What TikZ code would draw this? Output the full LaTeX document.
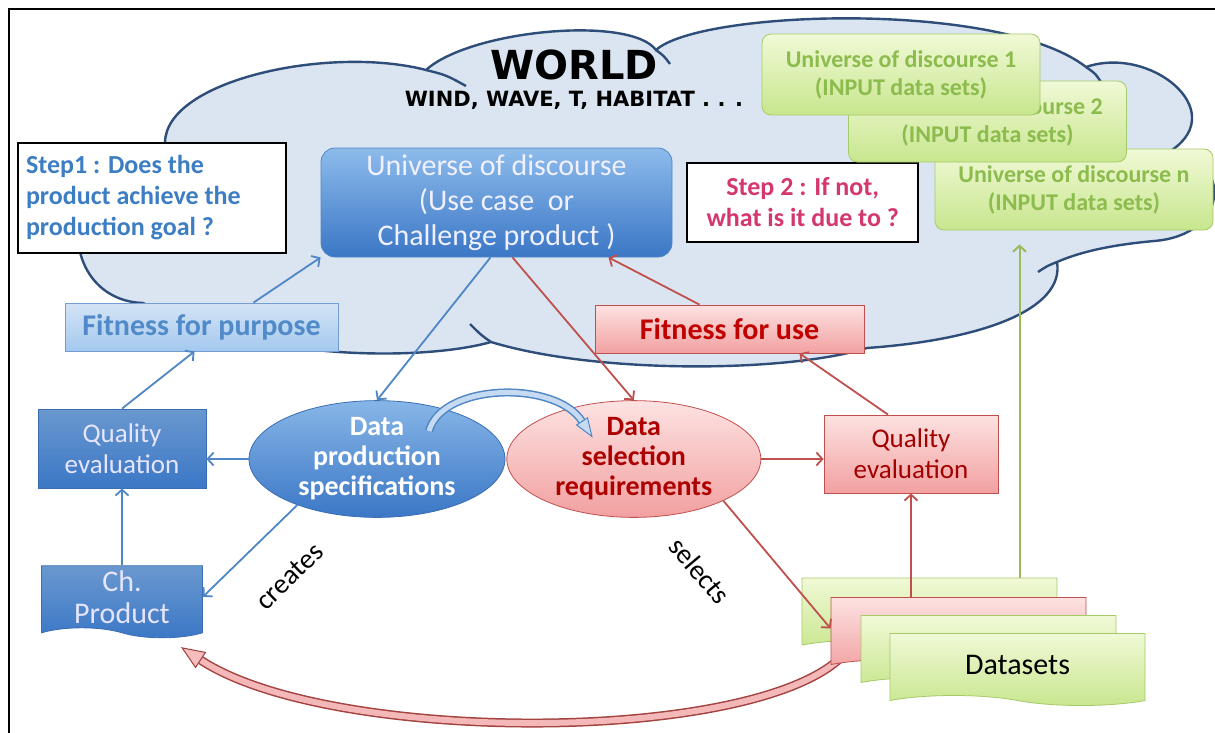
\documentclass[tikz,border=0pt]{standalone}
\usepackage{fontspec}
\setmainfont{Carlito}
\newfontfamily\worldfont{DejaVu Sans}
\usetikzlibrary{shapes.geometric, shapes.symbols, arrows.meta, positioning, backgrounds}

\definecolor{cloudfill}{HTML}{DBE5F1}
\definecolor{cloudedge}{HTML}{2E4D78}
\definecolor{bluedark}{HTML}{3A6EB2}
\definecolor{bluemid}{HTML}{4F86C6}
\definecolor{bluetop}{HTML}{8DBBEB}
\definecolor{bluebot}{HTML}{3B77C6}
\definecolor{bluetext}{HTML}{3C7DC3}
\definecolor{bluelight}{HTML}{C6DBF2}
\definecolor{redline}{HTML}{C0504D}
\definecolor{redtext}{HTML}{C00000}
\definecolor{pinktop}{HTML}{FDE2E2}
\definecolor{pinkbot}{HTML}{F2A0A0}
\definecolor{magtext}{HTML}{D4376F}
\definecolor{greenline}{HTML}{9BBB59}
\definecolor{greentop}{HTML}{F0F9D6}
\definecolor{greenbot}{HTML}{C8E68E}
\definecolor{greenedge}{HTML}{A5CA68}
\definecolor{greentext}{HTML}{8CBB4E}

\begin{document}
\begin{tikzpicture}[
    x=1pt, y=-1pt,
    worldcloud/.style={draw=cloudedge, line width=2.4pt, fill=cloudfill},
    curl/.style={draw=cloudedge, line width=2.4pt},
    mainbox/.style={rectangle, rounded corners=14pt, draw=bluemid, line width=0.8pt, top color=bluetop, bottom color=bluebot, text=white!94!blue, font=\fontsize{30}{35}\selectfont, align=center, minimum width=351pt, minimum height=109pt},
    stepbox/.style={rectangle, draw=black, line width=1.6pt, fill=white, font=\bfseries\fontsize{26}{31}\selectfont},
    unibox/.style={rectangle, rounded corners=9pt, draw=greenedge, line width=0.8pt, top color=greentop, bottom color=greenbot, text=greentext, font=\bfseries\fontsize{24}{28}\selectfont, align=center, minimum width=278pt, minimum height=81pt},
    fitblue/.style={rectangle, draw=bluemid!80, line width=0.8pt, top color=bluelight!75!white, bottom color=bluetop!80, text=bluetext!90, font=\bfseries\fontsize{30}{32}\selectfont, minimum width=273pt, minimum height=48pt},
    fitred/.style={rectangle, draw=redline, line width=0.8pt, top color=pinktop, bottom color=pinkbot, text=redtext, font=\bfseries\fontsize{30}{32}\selectfont, minimum width=269pt, minimum height=48pt},
    evalblue/.style={rectangle, draw=bluedark, line width=0.8pt, top color=bluemid!85!white, bottom color=bluebot, text=white!90!blue, font=\fontsize{27}{31}\selectfont, align=center, minimum width=168pt, minimum height=79pt},
    evalred/.style={rectangle, draw=redline, line width=0.8pt, top color=pinktop, bottom color=pinkbot, text=redtext!85!black, font=\fontsize{27}{31}\selectfont, align=center, minimum width=174pt, minimum height=78pt},
    specblue/.style={ellipse, draw=bluedark, line width=0.8pt, top color=bluetop!90!bluemid, bottom color=bluebot, text=white, font=\bfseries\fontsize{28}{30}\selectfont, align=center, minimum width=256pt, minimum height=112pt, inner sep=0pt},
    specred/.style={ellipse, draw=redline, line width=0.8pt, top color=pinktop, bottom color=pinkbot, text=redtext!90!black, font=\bfseries\fontsize{28}{30}\selectfont, align=center, minimum width=254pt, minimum height=109pt, inner sep=0pt},
    docblue/.style={tape, tape bend top=none, tape bend bottom=out and in, tape bend height=10pt, draw=bluedark, line width=0.8pt, top color=bluemid!85!white, bottom color=bluebot, text=white!90!blue, font=\fontsize{30}{32}\selectfont, align=center, minimum width=161pt, minimum height=72pt},
    docgreen/.style={tape, tape bend top=none, tape bend bottom=out and in, tape bend height=10pt, draw=greenedge, line width=0.8pt, top color=greentop, bottom color=greenbot, minimum width=255pt, minimum height=72pt},
    docred/.style={tape, tape bend top=none, tape bend bottom=out and in, tape bend height=10pt, draw=redline, line width=0.8pt, top color=pinktop, bottom color=pinkbot, minimum width=255pt, minimum height=72pt},
    verbtext/.style={font=\fontsize{28}{30}\selectfont, inner sep=2pt},
    barrow/.style={draw=bluemid, line width=1.8pt, -{Straight Barb[length=6pt, width=13pt]}},
    rarrow/.style={draw=redline, line width=1.8pt, -{Straight Barb[length=6pt, width=13pt]}},
    garrow/.style={draw=greenline, line width=2pt, -{Straight Barb[length=6pt, width=13pt]}},
    bluehead/.style={isosceles triangle, isosceles triangle stretches, shape border rotate=0, inner sep=0pt, draw=bluemid, line width=1pt, fill=bluelight, minimum width=13pt, minimum height=18pt},
    redhead/.style={isosceles triangle, isosceles triangle stretches, shape border rotate=0, inner sep=0pt, draw=redline!80!black, line width=1pt, fill=pinkbot!70!white, minimum width=18pt, minimum height=22pt}
]

\useasboundingbox (0,0) rectangle (1215,732);
\begin{scope}[on background layer]
\fill[white] (0,0) rectangle (1215,732);
\end{scope}
\clip (0,0) rectangle (1215,732);
\draw[line width=2.5pt] (9,745) -- (9,9) -- (1230,9);

% The world cloud
\path[worldcloud] (165,143) .. controls (165,80) and (330,45) .. (426,70)
    .. controls (470,30) and (630,15) .. (656,50)
    .. controls (700,10) and (1000,0) .. (1086,67)
    .. controls (1150,45) and (1230,110) .. (1172,150)
    .. controls (1232,160) and (1230,235) .. (1154,241)
    .. controls (1110,245) and (1080,252) .. (1057,262)
    .. controls (1065,310) and (980,340) .. (867,348)
    .. controls (790,372) and (600,375) .. (491,342)
    .. controls (420,362) and (250,360) .. (143,303)
    .. controls (55,300) and (50,160) .. cycle;
\draw[curl] (426,70) .. controls (446,75) .. (466,86);
\draw[curl] (656,50) .. controls (664,56) .. (670,64);
\draw[curl] (1086,67) .. controls (1096,74) .. (1102,84);
\draw[curl] (1172,150) .. controls (1162,156) .. (1152,160);
\draw[curl] (1057,262) .. controls (1047,266) .. (1038,272);
\draw[curl] (491,342) .. controls (481,335) .. (470,324);

\node[font=\worldfont\bfseries\fontsize{40}{40}\selectfont] (world) at (574,65) {WORLD};
\node[font=\worldfont\bfseries\fontsize{21}{21}\selectfont, below=4pt of world] (factors) {WIND, WAVE, T, HABITAT . . .};

% Boxes inside the cloud
\node[mainbox] (universe) at (496.5,202.5) {Universe of discourse\\(Use case\ \ or\\Challenge product )};
\node[stepbox, text=bluetext, text width=252pt, inner xsep=8pt, minimum height=110pt, align=flush left] (step1) at (152,198) {Step1 : Does the\\product achieve the\\production goal ?};
\node[stepbox, text=magtext, align=center, minimum width=231pt, minimum height=79pt, right=14pt of universe] (step2) {Step 2 : If not,\\what is it due to ?};

\node[unibox] (gbn) at (1074,189.5) {Universe of discourse n\\(INPUT data sets)};
\node[unibox] (gb2) at (987.5,121.5) {Universe of discourse 2\\(INPUT data sets)};
\node[unibox] (gb1) at (901,74.5) {Universe of discourse 1\\(INPUT data sets)};

\node[fitblue] (fitpurp) at (201.5,327) {Fitness for purpose};
\node[fitred] (fituse) at (729.5,329) {Fitness for use};

% Specifications and evaluations
\node[specblue] (dps) at (377,459) {Data\\production\\specifications};
\node[specred, right=1pt of dps] (dsr) {Data\\selection\\requirements};
\node[evalblue] (qeleft) at (122,448.5) {Quality\\evaluation};
\node[evalred] (qeright) at (911,454) {Quality\\evaluation};
\node[docblue, below=77pt of qeleft] (chprod) {Ch.\\Product};

% Dataset stack
\node[docgreen] (d1) at (929.5,609) {};
\node[docred] (d2) at (958.5,628.5) {};
\node[docgreen] (d3) at (988.5,646.5) {};
\node[docgreen, text=black, font=\fontsize{30}{32}\selectfont] (d4) at (1017.5,664.5) {Datasets};

% Return arrow behind the stack
\begin{scope}[on background layer]
\draw[line width=9pt, draw=redline!85!black] ([xshift=14pt,yshift=6pt]d2.south west) .. controls (760,745) and (330,745) .. ([xshift=-2pt,yshift=-32pt]chprod.south east);
\draw[line width=6pt, draw=pinkbot!75!white] ([xshift=14pt,yshift=6pt]d2.south west) .. controls (760,745) and (330,745) .. ([xshift=-2pt,yshift=-32pt]chprod.south east);
\end{scope}
\path ([xshift=14pt,yshift=6pt]d2.south west) .. controls (760,745) and (330,745) .. ([xshift=-2pt,yshift=-32pt]chprod.south east)
    node[pos=1, sloped, allow upside down, anchor=lower side, redhead] (backhead) {};

% Arrows
\draw[barrow] ([xshift=52pt]fitpurp.north) -- (universe.south west);
\draw[barrow] (qeleft.north) -- ([xshift=-7pt]fitpurp.south);
\draw[barrow] (dps.west) -- (dps.west -| qeleft.east);
\draw[barrow] (chprod.north) -- (qeleft.south);
\draw[barrow] (dps.210) -- (chprod.east) node[pos=0.42, sloped, below=34pt, verbtext, text=black] {creates};
\draw[barrow] ([xshift=-6pt]universe.south) -- (dps.north);
\draw[rarrow] ([xshift=16pt]universe.south) -- (dsr.north);
\draw[rarrow] ([xshift=-30pt]fituse.north) -- ([xshift=112pt]universe.south);
\draw[rarrow] ([xshift=-23pt]qeright.north) -- ([xshift=70pt]fituse.south);
\draw[rarrow] (dsr.east) -- (dsr.east -| qeright.west);
\draw[rarrow] (dsr.-25) -- (d2.west) node[pos=0.23, sloped, below=50pt, verbtext, text=black] {selects};
\draw[rarrow] (d2.north -| qeright.south) -- (qeright.south);
\draw[garrow, shorten >=14pt] ([xshift=90pt]d1.north) -- ([xshift=90pt]d1.north |- gbn.south);

% Hop from specifications to requirements
\draw[line width=8pt, draw=bluemid] ([xshift=52pt,yshift=28pt]dps.center) .. controls (442,383) and (555,380) .. ([xshift=-52pt,yshift=38pt]dsr.center);
\draw[line width=5pt, draw=bluelight] ([xshift=52pt,yshift=28pt]dps.center) .. controls (442,383) and (555,380) .. ([xshift=-52pt,yshift=38pt]dsr.center)
    node[pos=1, sloped, allow upside down, anchor=lower side, bluehead] (hophead) {};

\end{tikzpicture}
\end{document}
